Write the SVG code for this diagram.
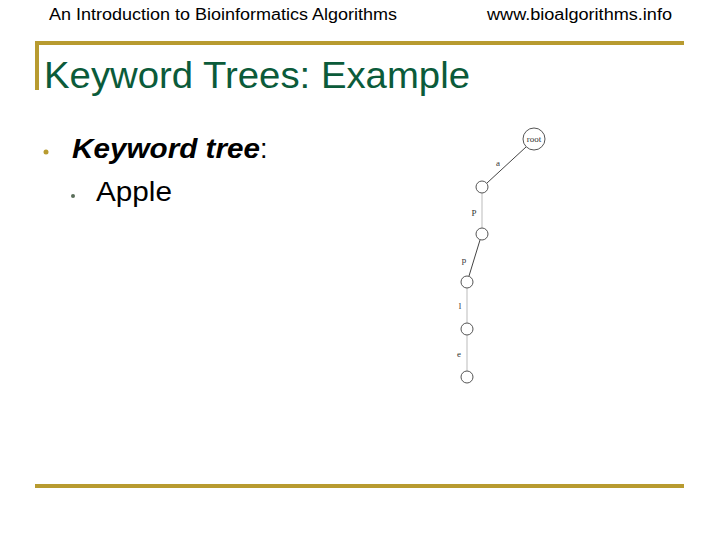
<svg xmlns="http://www.w3.org/2000/svg" width="720" height="540" viewBox="0 0 720 540">
<style>
.hdr{font-family:"Liberation Sans",Arial,sans-serif;font-size:16px;fill:#000}
.title{font-family:"Liberation Sans",Arial,sans-serif;font-size:36px;fill:#0b5b3a}
.body{font-family:"Liberation Sans",Arial,sans-serif;font-size:27px;fill:#000}
.rule{stroke:#b89b30;stroke-width:4;fill:none}
.node{fill:#fff;stroke:#555;stroke-width:1}
.edge{stroke:#444;stroke-width:1}
.edgel{stroke:#bbb;stroke-width:1}
.lbl{font-family:"Liberation Serif","Times New Roman",serif;font-size:9px;fill:#333;text-anchor:middle}
</style>
<rect width="720" height="540" fill="#fff"/>
<text class="hdr" x="49" y="20" textLength="348" lengthAdjust="spacingAndGlyphs">An Introduction to Bioinformatics Algorithms</text>
<text class="hdr" x="487" y="20" textLength="185" lengthAdjust="spacingAndGlyphs">www.bioalgorithms.info</text>
<path class="rule" d="M37 90 V43 H684"/>
<line class="rule" x1="35" y1="486" x2="684" y2="486"/>
<text class="title" x="44" y="88" textLength="426" lengthAdjust="spacingAndGlyphs">Keyword Trees: Example</text>
<circle cx="46" cy="152" r="2.5" fill="#b89b30"/>
<text class="body" x="72" y="158"><tspan font-style="italic" font-weight="bold" textLength="188" lengthAdjust="spacingAndGlyphs">Keyword tree</tspan>:</text>
<circle cx="73" cy="196" r="2" fill="#5a6e5a"/>
<text class="body" x="96" y="201" textLength="76" lengthAdjust="spacingAndGlyphs">Apple</text>
<g id="connectors">
<line class="edge" x1="526" y1="147" x2="487" y2="183"/>
<line class="edgel" x1="482" y1="193" x2="482" y2="228"/>
<line class="edge" x1="480" y1="240" x2="469" y2="276"/>
<line class="edgel" x1="467" y1="288" x2="467" y2="323"/>
<line class="edgel" x1="467" y1="335" x2="467" y2="371"/>
<text class="lbl" x="498" y="166">a</text>
<text class="lbl" x="474" y="216">P</text>
<text class="lbl" x="464" y="263">p</text>
<text class="lbl" x="460" y="309">l</text>
<text class="lbl" x="459" y="357">e</text>
</g>
<g id="root"><circle class="node" cx="534" cy="139" r="11"/><text class="lbl" x="534" y="142" font-size="8">root</text></g>
<g id="n1"><circle class="node" cx="482" cy="187" r="6"/></g>
<g id="n2"><circle class="node" cx="482" cy="234" r="6"/></g>
<g id="n3"><circle class="node" cx="467" cy="282" r="6"/></g>
<g id="n4"><circle class="node" cx="467" cy="329" r="6"/></g>
<g id="n5"><circle class="node" cx="467" cy="377" r="6"/></g>
</svg>
